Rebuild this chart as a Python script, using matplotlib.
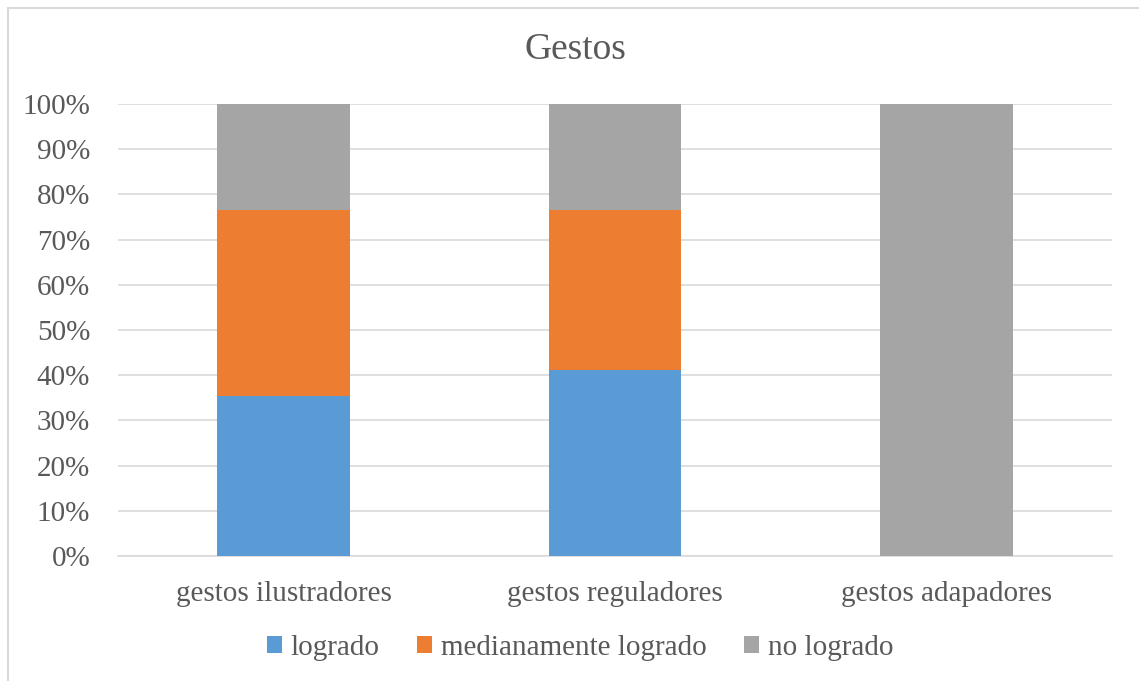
import matplotlib.pyplot as plt
from matplotlib.lines import Line2D
import numpy as np

categorias = ['gestos ilustradores', 'gestos reguladores', 'gestos adapadores']
logrado = [35.3, 41.2, 0]
medianamente = [41.2, 35.3, 0]
no_logrado = [23.5, 23.5, 100]
etiquetas = ['logrado', 'medianamente logrado', 'no logrado']
colores = ['#5B9BD5', '#ED7D31', '#A5A5A5']

plt.rcParams['font.family'] = ['Liberation Serif', 'DejaVu Serif']
gris = '#595959'

fig = plt.figure(figsize=(11.39, 6.81), dpi=100)
ax = fig.add_axes([118/1139, 1-556/681, (1112-118)/1139, (556-104)/681])

x = np.arange(len(categorias))
w = 0.4
base = np.zeros(len(categorias))
for vals, lab, col in zip([logrado, medianamente, no_logrado], etiquetas, colores):
    ax.bar(x, vals, w, bottom=base, color=col, label=lab, zorder=3)
    base = base + np.array(vals)

ax.set_xlim(-0.5, 2.5)
ax.set_ylim(0, 100)
ax.set_yticks(np.arange(0, 101, 10))
ax.set_yticklabels([f'{v}%' for v in range(0, 101, 10)])
ax.set_xticks(x)
ax.set_xticklabels(categorias)
ax.tick_params(axis='both', length=0, labelsize=21, colors=gris)
ax.tick_params(axis='y', pad=20)
ax.tick_params(axis='x', pad=18)
ax.grid(axis='y', color='#D9D9D9', linewidth=1.2, zorder=0)
for s in ['top', 'right', 'left']:
    ax.spines[s].set_visible(False)
ax.spines['bottom'].set_color('#D9D9D9')
ax.spines['bottom'].set_linewidth(1.2)

fig.text(575/1139, 1-50/681, 'Gestos', ha='center', va='center', fontsize=27, color=gris)

leg = fig.legend(loc='center', bbox_to_anchor=(580/1139, 1-648/681), ncol=3, frameon=False,
                 fontsize=21, handlelength=0.5, handleheight=0.5, handletextpad=0.3,
                 columnspacing=1.3, labelcolor=gris)

# marco: solo borde superior e izquierdo visibles
fig.lines.append(Line2D([8/1139, 1], [1-8/681, 1-8/681], transform=fig.transFigure,
                        color='#D9D9D9', linewidth=1.5))
fig.lines.append(Line2D([8/1139, 8/1139], [0, 1-8/681], transform=fig.transFigure,
                        color='#D9D9D9', linewidth=1.5))

fig.savefig('out.png', dpi=100)
